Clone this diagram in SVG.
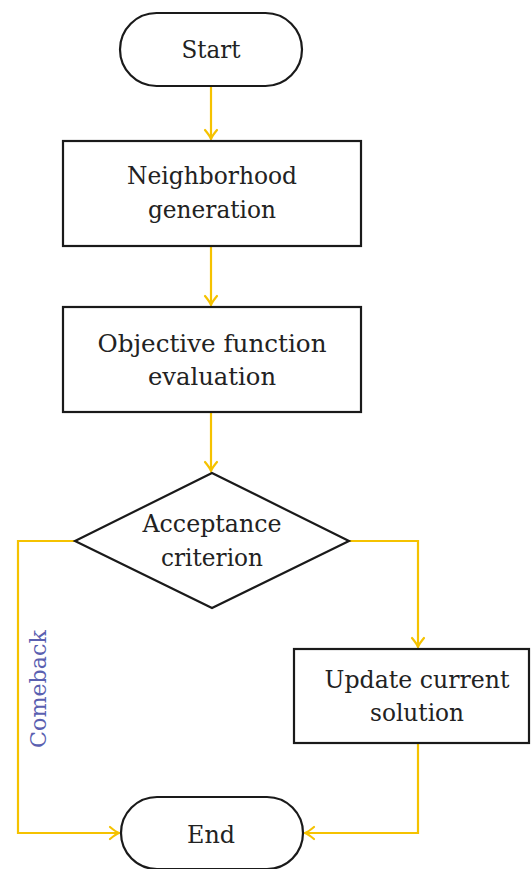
<svg xmlns="http://www.w3.org/2000/svg" width="531" height="869" viewBox="0 0 531 869">
<style>
.shape{fill:#ffffff;stroke:#1a1a1a;stroke-width:2.2}
.lbl{font-family:'DejaVu Serif','Liberation Serif',serif;font-size:25px;fill:#222222;text-anchor:middle}
.conn{fill:none;stroke:#f5c200;stroke-width:2.2}
.cb{font-family:'DejaVu Serif','Liberation Serif',serif;font-size:22px;fill:#5a60b0;text-anchor:middle}
</style>
<defs>
<marker id="arr" markerUnits="userSpaceOnUse" markerWidth="20" markerHeight="20" refX="0" refY="0" viewBox="-12 -10 14 20" orient="auto">
<path d="M -9 -6 Q -3 -1 0 0 Q -3 1 -9 6" fill="none" stroke="#f5c200" stroke-width="2.2" stroke-linecap="round"/>
</marker>
</defs>
<g id="connectors">
<path class="conn" d="M211 86 V139" marker-end="url(#arr)"/>
<path class="conn" d="M211 246 V305" marker-end="url(#arr)"/>
<path class="conn" d="M211 412 V471" marker-end="url(#arr)"/>
<path class="conn" d="M349 541 H418 V647" marker-end="url(#arr)"/>
<path class="conn" d="M418 743 V833 H305" marker-end="url(#arr)"/>
<path class="conn" d="M75 541 H18 V833 H119" marker-end="url(#arr)"/>
<text class="cb" transform="translate(46 689) rotate(-90)" textLength="118" lengthAdjust="spacingAndGlyphs">Comeback</text>
</g>
<g id="start">
<rect class="shape" x="120" y="13" width="182" height="73" rx="36.5"/>
<text class="lbl" x="211" y="58" textLength="59" lengthAdjust="spacingAndGlyphs">Start</text>
</g>
<g id="neighborhood">
<rect class="shape" x="63" y="141" width="298" height="105"/>
<text class="lbl" x="212" y="184" textLength="170" lengthAdjust="spacingAndGlyphs">Neighborhood</text>
<text class="lbl" x="212" y="218" textLength="128" lengthAdjust="spacingAndGlyphs">generation</text>
</g>
<g id="objective">
<rect class="shape" x="63" y="307" width="298" height="105"/>
<text class="lbl" x="212" y="352" textLength="229" lengthAdjust="spacingAndGlyphs">Objective function</text>
<text class="lbl" x="212" y="385" textLength="128" lengthAdjust="spacingAndGlyphs">evaluation</text>
</g>
<g id="acceptance">
<polygon class="shape" points="212,473 349,541 212,608 75,541"/>
<text class="lbl" x="212" y="532" textLength="139" lengthAdjust="spacingAndGlyphs">Acceptance</text>
<text class="lbl" x="212" y="566" textLength="102" lengthAdjust="spacingAndGlyphs">criterion</text>
</g>
<g id="update">
<rect class="shape" x="294" y="649" width="235" height="94"/>
<text class="lbl" x="417" y="688" textLength="185" lengthAdjust="spacingAndGlyphs">Update current</text>
<text class="lbl" x="417" y="721" textLength="94" lengthAdjust="spacingAndGlyphs">solution</text>
</g>
<g id="end">
<rect class="shape" x="121" y="797" width="182" height="72" rx="36"/>
<text class="lbl" x="211" y="843" textLength="48" lengthAdjust="spacingAndGlyphs">End</text>
</g>
</svg>
